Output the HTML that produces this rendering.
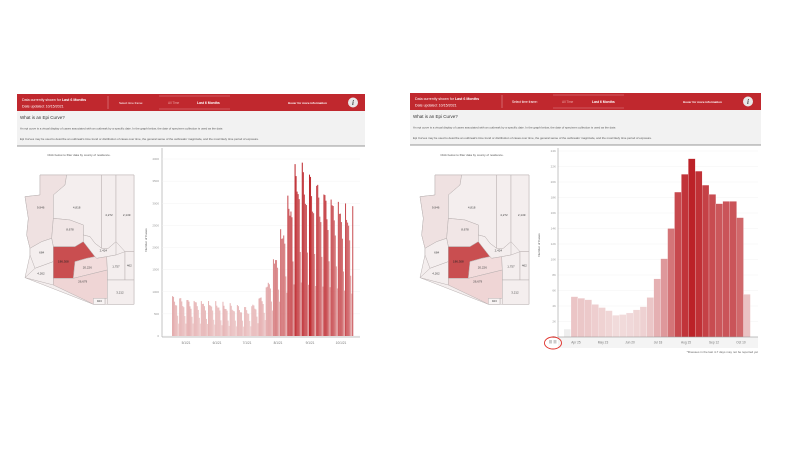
<!DOCTYPE html>
<html><head><meta charset="utf-8"><style>
html,body{margin:0;padding:0;background:#fff;width:800px;height:450px;overflow:hidden}
svg{display:block;font-family:"Liberation Sans",sans-serif}
</style></head><body>
<svg id="s" width="800" height="450" viewBox="0 0 800 450" xmlns="http://www.w3.org/2000/svg">
<defs>
<g id="map">
<polygon fill="#f4eeee" stroke="#b8b0b0" stroke-width="1.5" points="90,270 372,270 372,658 250,658 45,578 60,510 60,490 50,450 55,400 45,335 90,330"/>
<g stroke="#b8b0b0" stroke-width="1.5">
<polygon fill="#efe1e1" points="90,270 170,270 165,300 130,330 130,400 125,460 95,470 60,490 50,450 55,400 45,335 90,330"/>
<polygon fill="#f4eeee" points="170,270 275,270 275,490 255,475 240,455 220,450 220,420 180,405 130,400 130,330 165,300"/>
<polygon fill="#f4eeee" points="275,270 318,270 318,470 295,490 275,490"/>
<polygon fill="#f4eeee" points="318,270 372,270 372,500 345,500 318,470"/>
<polygon fill="#f1e6e6" points="130,400 180,405 220,420 220,470 195,485 130,485 125,460"/>
<polygon fill="#f4eeee" points="125,460 130,485 130,530 75,550 60,510 60,490 95,470"/>
<polygon fill="#f4eeee" points="75,550 130,530 130,600 45,578"/>
<polygon fill="#c94e50" points="130,485 195,485 220,470 255,515 230,520 195,530 190,580 130,580"/>
<polygon fill="#f4eeee" points="220,450 240,455 255,475 275,490 295,490 318,470 318,510 290,515 260,520 255,515 220,470"/>
<polygon fill="#f2dcdc" points="195,530 230,520 255,515 260,520 290,515 292,555 190,580"/>
<polygon fill="#f4eeee" points="290,515 318,510 345,500 345,585 292,585 292,555"/>
<polygon fill="#f4eeee" points="345,500 372,500 372,585 345,585"/>
<polygon fill="#efd5d5" points="130,580 190,580 292,555 292,640 285,640 285,658 250,658 235,650 130,600"/>
<polygon fill="#f8f4f4" points="250,640 285,640 285,658 250,658"/>
<polygon fill="#f4eeee" points="292,585 372,585 372,658 292,658"/>
</g>
<g font-size="9" fill="#444" text-anchor="middle">
<text x="92" y="371">9,946</text><text x="200" y="370">4,818</text><text x="297" y="393">4,272</text>
<text x="350" y="393">2,149</text><text x="180" y="436">8,678</text><text x="95" y="505">684</text>
<text x="93" y="568">4,262</text><text x="160" y="533" fill="#222">186,308</text><text x="280" y="500">2,424</text>
<text x="232" y="551">20,226</text><text x="318" y="548">1,757</text><text x="358" y="544">462</text>
<text x="218" y="593">26,679</text><text x="268" y="651">923</text><text x="330" y="625">3,212</text>
</g>
</g>
</defs>

<!-- LEFT PANEL -->
<rect x="17" y="94" width="348" height="17" fill="#c0282e"/>
<rect x="17" y="111" width="348" height="35" fill="#f2f2f2"/>
<line x1="17" y1="146" x2="365" y2="146" stroke="#777" stroke-width="0.8"/>
<g font-size="3.6" fill="#fff">
<text x="22" y="101">Data currently shown for <tspan font-weight="bold">Last 6 Months</tspan></text>
<text x="22" y="107.5">Date updated: 10/15/2021</text>
<text x="119" y="104" font-size="3">Select time frame:</text>
<text x="168" y="104" fill="#e8a0a0" font-size="3.2">All Time</text>
<text x="197" y="104" font-weight="bold" font-size="3.4">Last 6 Months</text>
<text x="288" y="104" font-weight="bold" font-size="3">Hover for more information</text>
</g>
<line x1="108" y1="96" x2="108" y2="109" stroke="#e9a3a6" stroke-width="0.5"/>
<line x1="159" y1="96" x2="230" y2="96" stroke="#e9a3a6" stroke-width="0.4"/>
<line x1="159" y1="109" x2="230" y2="109" stroke="#e9a3a6" stroke-width="0.4"/>
<circle cx="353" cy="102.5" r="5" fill="#e8e8e8"/><text x="353" y="105" font-size="7" font-weight="bold" font-style="italic" fill="#444" text-anchor="middle" font-family="Liberation Serif">i</text>
<text x="20" y="119" font-size="4.5" fill="#333">What is an Epi Curve?</text>
<text x="20" y="129.5" font-size="2.9" fill="#555">An epi curve is a visual display of cases associated with an outbreak by a specific date. In the graph below, the date of specimen collection is used as the date.</text>
<text x="20" y="140" font-size="2.9" fill="#555">Epi Curves may be used to describe an outbreak's time trend or distribution of cases over time, the general sense of the outbreaks' magnitude, and the most likely time period of exposure.</text>
<text x="79" y="156" font-size="3" fill="#555" text-anchor="middle">Click below to filter data by county of residence.</text>
<use href="#map" transform="translate(10,85) scale(0.3333)"/>
<!-- left chart -->
<line x1="162" y1="148" x2="162" y2="337" stroke="#888" stroke-width="0.5"/>
<line x1="162" y1="337" x2="360" y2="337" stroke="#888" stroke-width="0.5"/>
<g id="lgrid" stroke="#f0f0f0" stroke-width="0.4"></g>
<g font-size="3" fill="#999" text-anchor="end" id="lyl"></g>
<text transform="translate(147,240) rotate(-90)" font-size="3" fill="#555" text-anchor="middle">Number of Cases</text>
<g id="lbars"></g>
<g font-size="3.2" fill="#777" text-anchor="middle">
<text x="186" y="344">5/1/21</text><text x="217" y="344">6/1/21</text><text x="247" y="344">7/1/21</text>
<text x="278" y="344">8/1/21</text><text x="310" y="344">9/1/21</text><text x="341" y="344">10/1/21</text>
</g>

<!-- RIGHT PANEL -->
<rect x="410" y="93" width="351" height="17" fill="#c0282e"/>
<rect x="410" y="110" width="351" height="35" fill="#f2f2f2"/>
<line x1="410" y1="145" x2="761" y2="145" stroke="#777" stroke-width="0.8"/>
<g font-size="3.6" fill="#fff">
<text x="415" y="100">Data currently shown for <tspan font-weight="bold">Last 6 Months</tspan></text>
<text x="415" y="106.5">Date updated: 10/15/2021</text>
<text x="512" y="103" font-size="3.2">Select time frame:</text>
<text x="562" y="103" fill="#e8a0a0" font-size="3.2">All Time</text>
<text x="592" y="103" font-weight="bold" font-size="3.4">Last 6 Months</text>
<text x="683" y="103" font-weight="bold" font-size="3">Hover for more information</text>
</g>
<line x1="502" y1="95" x2="502" y2="108" stroke="#e9a3a6" stroke-width="0.5"/>
<line x1="553" y1="95" x2="624" y2="95" stroke="#e9a3a6" stroke-width="0.4"/>
<line x1="553" y1="108" x2="624" y2="108" stroke="#e9a3a6" stroke-width="0.4"/>
<circle cx="748" cy="101.5" r="5" fill="#e8e8e8"/><text x="748" y="104" font-size="7" font-weight="bold" font-style="italic" fill="#444" text-anchor="middle" font-family="Liberation Serif">i</text>
<text x="413" y="118" font-size="4.5" fill="#333">What is an Epi Curve?</text>
<text x="413" y="128.5" font-size="2.9" fill="#555">An epi curve is a visual display of cases associated with an outbreak by a specific date. In the graph below, the date of specimen collection is used as the date.</text>
<text x="413" y="139" font-size="2.9" fill="#555">Epi Curves may be used to describe an outbreak's time trend or distribution of cases over time, the general sense of the outbreaks' magnitude, and the most likely time period of exposure.</text>
<text x="472" y="156" font-size="3" fill="#555" text-anchor="middle">Click below to filter data by county of residence.</text>
<use href="#map" transform="translate(405,85) scale(0.3333)"/>
<!-- right chart -->
<rect x="558" y="337" width="200" height="11" fill="#f4f4f4"/>
<g id="rgrid" stroke="#f0f0f0" stroke-width="0.4"></g>
<g font-size="3" fill="#999" text-anchor="end" id="ryl"></g>
<text transform="translate(540,245) rotate(-90)" font-size="3" fill="#555" text-anchor="middle">Number of Cases</text>
<g id="rbars"></g>
<line x1="558" y1="148" x2="558" y2="337" stroke="#888" stroke-width="0.5"/>
<line x1="558" y1="337" x2="758" y2="337" stroke="#888" stroke-width="0.5"/>
<g font-size="3.2" fill="#777" text-anchor="middle">
<text x="576" y="343.5">Apr 25</text><text x="603" y="343.5">May 23</text><text x="630" y="343.5">Jun 20</text>
<text x="658" y="343.5">Jul 18</text><text x="686" y="343.5">Aug 15</text><text x="714" y="343.5">Sep 12</text><text x="741" y="343.5">Oct 10</text>
</g>
<rect x="549" y="340" width="3" height="3.5" fill="#ccc"/><rect x="553.5" y="340" width="3" height="3.5" fill="#ccc"/>
<ellipse cx="553" cy="343" rx="8.5" ry="6" fill="none" stroke="#e0302a" stroke-width="0.9"/>
<text x="758" y="353" font-size="3" fill="#666" text-anchor="end">*Illnesses in the last 4-7 days may not be reported yet</text>
</svg>
<script>
var NS="http://www.w3.org/2000/svg";
function el(p,t,a){var e=document.createElementNS(NS,t);for(var k in a)e.setAttribute(k,a[k]);document.getElementById(p).appendChild(e);return e;}
function col(f,a){f=Math.max(0,Math.min(1,f));a=a||[242,222,222];var b=[188,34,40];return "rgb("+a.map(function(v,i){return Math.round(v+(b[i]-v)*f)}).join(",")+")";}
for(var v=0;v<=4000;v+=500){var y=336-v*177/4000;el("lgrid","line",{x1:162,x2:360,y1:y,y2:y});var t=el("lyl","text",{x:159,y:y+1});t.textContent=v;}
function trend(t){if(t<75)return 900-250*t/75;if(t<90)return 650+400*(t-75)/15;if(t<105)return 1050+1300*(t-90)/15;if(t<122)return 2350+1650*(t-105)/17;if(t<150)return 3900-600*(t-122)/28;return 3300-500*(t-150)/26;}
var wf=[1,0.94,0.88,0.82,0.76,0.5,0.33];
for(var d=0;d<176;d++){var v=trend(d)*wf[d%7]*(1+0.05*Math.sin(d*1.7));var h=v*177/4000;el("lbars","rect",{x:172+d*1.03,y:336-h,width:1.0,height:h,fill:col((v-200)/3600,[238,206,206])});}
for(var v=0;v<=24;v+=2){var y=337-v*186/24;el("rgrid","line",{x1:558,x2:758,y1:y,y2:y});var t=el("ryl","text",{x:556,y:y+1});t.textContent=v==0?"0K":v+"K";}
var w=[5.2,5.0,4.8,4.2,3.8,3.4,2.8,2.9,3.1,3.5,3.9,5.1,7.5,10.1,14,18.7,21,23,21.4,19.6,18.4,17.2,17.5,17.5,15.4,5.5];
el("rbars","rect",{x:564,y:337-1*186/24,width:6.5,height:186/24,fill:"#eeeeee"});
for(var i=0;i<w.length;i++){var h=w[i]*186/24;el("rbars","rect",{x:571+i*6.9,y:337-h,width:6.9,height:h,fill:col((w[i]-2.5)/20.5),stroke:"#fff","stroke-width":0.2});}
</script>
</body></html>
